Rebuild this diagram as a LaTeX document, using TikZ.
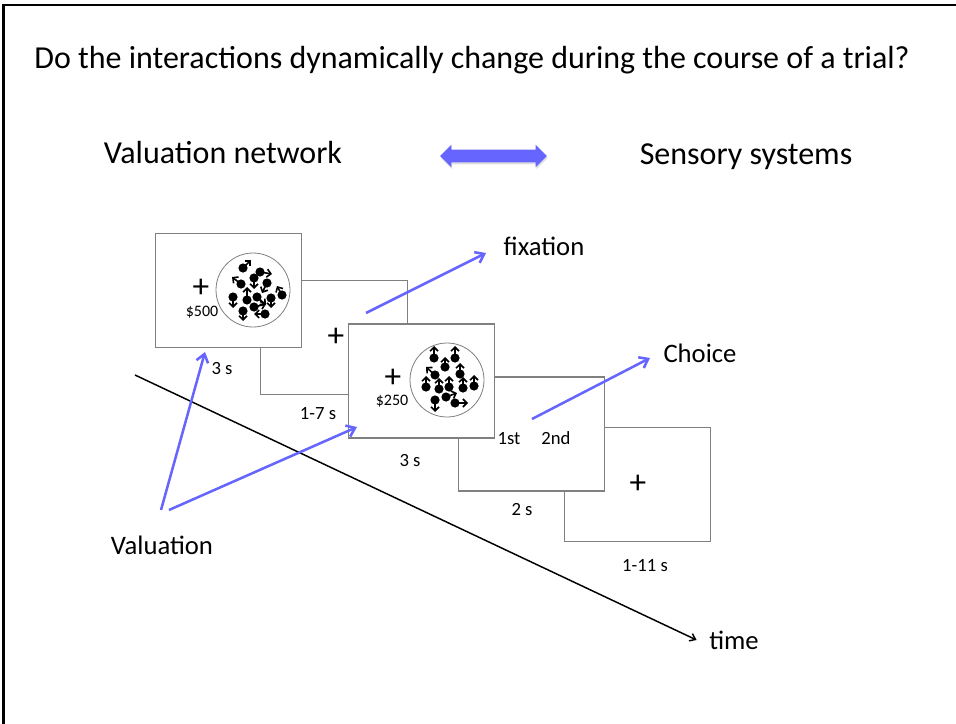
\documentclass[tikz,border=0pt]{standalone}
\usepackage{fontspec}
\setmainfont{Carlito}
\usepackage{tikz}
\usetikzlibrary{positioning,arrows.meta,shapes.arrows,shadows}
\definecolor{valblue}{RGB}{102,102,255}

\begin{document}
\begin{tikzpicture}[
  x=0.75pt, y=-0.75pt,
  every node/.style={align=center},
  card/.style={draw=gray, line width=0.8pt, fill=white, minimum width=110pt, minimum height=85.5pt, inner sep=0pt},
  ring/.style={draw=gray, line width=0.6pt, circle, minimum size=55.5pt, inner sep=0pt},
  txtbig/.style={font=\fontsize{24}{28}\selectfont},
  txtmid/.style={font=\fontsize{20}{24}\selectfont},
  txtsmall/.style={font=\fontsize{14}{16}\selectfont},
  txtdollar/.style={font=\fontsize{12}{14}\selectfont, inner sep=0pt},
  fixcross/.style={font=\fontsize{25}{25}\selectfont, inner sep=0pt, anchor=base, text height=0.58em, text depth=0pt},
  link/.style={-{Straight Barb[length=6pt,width=9pt]}, valblue, line width=1.9pt},
  spin/.style={-{Straight Barb[length=3pt,width=6pt]}, line width=1.2pt},
  timeline/.style={-{Straight Barb[length=4pt,width=6pt]}, line width=1.1pt}
]
\useasboundingbox (0,0) rectangle (956,724);
\draw[line width=2pt] (3.5,724) -- (3.5,5) -- (956,5);

% heading and the two sides
\node[txtbig] (title) at (472,60) {Do the interactions dynamically change during the course of a trial?};
\node[txtbig] (valnet) at (223,153) {Valuation network};
\node[txtbig] (sensory) at (746,157) {Sensory systems};
\node[double arrow, fill=valblue, minimum height=80pt, minimum width=16.5pt,
      inner xsep=0pt, inner ysep=4.5pt, double arrow head extend=3.75pt,
      drop shadow={opacity=0.25, shadow xshift=0.6pt, shadow yshift=-1.5pt}] (swap) at (493.5,156) {};

% trial screens, last one first so earlier screens sit on top
\node[card] (c5) at (637.5,484.5) {};
\node[card] (c4) at (531.5,434) {};
\node[card] (c2) at (334,337.5) {};
\node[card] (c3) at (421.5,381) {};
\node[card] (c1) at (228.5,290.5) {};

% screen 1: offer and dot motion
\node[fixcross] (plus1) at (201,297) {+};
\node[txtdollar] (cash1) at (202,312) {\$500};
\node[ring] (ring1) at (253,290) {};
\begin{scope}[shift={(253,290)}]
  \foreach \dx/\dy/\ax/\ay in {-10/-22/8/-8, 7/-18/12/2, 1/-12/0/11, -12/-6/-9/-7,
      14/-7/-5/10, 29/5/-5/-9, -20/7/0/11, -6/10/0/-13, 4/7/9/8,
      18/8/0/10, 1/17/12/-3, -10/21/0/10, 12/24/-11/0} {
    \fill (\dx,\dy) circle[radius=4.6];
    \draw[spin] (\dx,\dy) -- ++(\ax,\ay);
  }
\end{scope}

% screen 2: fixation
\node[fixcross] (plus2) at (336,346) {+};

% screen 3: second offer
\node[fixcross] (plus3) at (393,387) {+};
\node[txtdollar] (cash3) at (392,401) {\$250};
\node[ring] (ring3) at (447,380) {};
\begin{scope}[shift={(447,380)}]
  \foreach \dx/\dy/\ax/\ay in {-13/-22/0/-12, 8/-22/0/-12, -2/-13/0/-10, -12/-5/-9/-8,
      -21/7/0/-11, -8/9/0/-11, 2/7/0/-11, 13/-6/0/-11, 16/8/0/-11,
      27/6/0/-11, -1/17/11/-4, -12/20/0/12, 8/23/13/0} {
    \fill (\dx,\dy) circle[radius=4.6];
    \draw[spin] (\dx,\dy) -- ++(\ax,\ay);
  }
\end{scope}

% screen 4: choice, screen 5: inter-trial fixation
\node[txtsmall] (first) at (509,439) {1st};
\node[txtsmall] (second) at (556,438) {2nd};
\node[fixcross] (plus5) at (638,493) {+};

% durations
\node[txtsmall] (d1) at (222,369) {3 s};
\node[txtsmall] (d2) at (318,414) {1-7 s};
\node[txtsmall] (d3) at (410,461) {3 s};
\node[txtsmall] (d4) at (522,510) {2 s};
\node[txtsmall] (d5) at (645,566) {1-11 s};

% time axis
\coordinate (t0) at (135,375);
\node[txtmid] (time) at (734,640) {time};
\draw[timeline] (t0) -- ([xshift=-6pt]time.west);

% events
\node[txtmid] (val) at (162,545) {Valuation};
\node[txtmid] (fix) at (544,246) {fixation};
\node[txtmid] (choice) at (700,353) {Choice};

\coordinate (vsrc1) at (161,510);
\coordinate (vsrc2) at (169,510);
\coordinate (vtip1) at (205,352);
\coordinate (vtip2) at (357,427);
\coordinate (fsrc) at (366,313);
\coordinate (ftip) at (486,253);
\coordinate (csrc) at (532,419);
\coordinate (ctip) at (650,358);

\draw[link] (vsrc1) -- (vtip1);
\draw[link] (vsrc2) -- (vtip2);
\draw[link] (fsrc) -- (ftip);
\draw[link] (csrc) -- (ctip);
\end{tikzpicture}
\end{document}
